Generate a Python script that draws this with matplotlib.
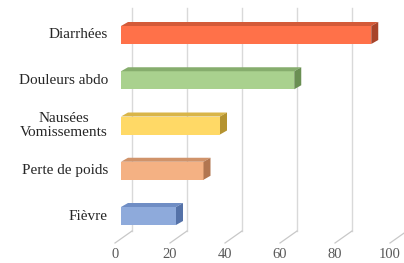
import matplotlib
matplotlib.use("Agg")
import matplotlib.pyplot as plt
from matplotlib.patches import Polygon
import numpy as np

categories = ["Fièvre", "Perte de poids", "Nausées\nVomissements", "Douleurs abdo", "Diarrhées"]
values = [20, 30, 36, 63, 91]
ticks = [0, 20, 40, 60, 80, 100]

front_colors = ["#8eaadb", "#f4b183", "#ffd966", "#a9d18e", "#ff7149"]
top_colors = ["#6f8dc4", "#d0936a", "#d9b548", "#86ad6d", "#d45a38"]
side_colors = ["#5572a8", "#b27650", "#b59330", "#6a8f53", "#a8442a"]

W, H = 404, 263
fig = plt.figure(figsize=(W / 100, H / 100), dpi=100)
ax = fig.add_axes([0, 0, 1, 1])
ax.set_axis_off()

px_per_unit = 2.75
x0_px = 121
y0_px = 216
y_step = 45.25
ax.set_xlim((0 - x0_px) / px_per_unit, (W - x0_px) / px_per_unit)
ax.set_ylim((y0_px - H) / y_step, y0_px / y_step)

serif = ["Liberation Serif", "DejaVu Serif"]

# back-plane gridlines and floor lines
back_off = 11 / px_per_unit
front_off = -6 / px_per_unit
y_back_bottom = (y0_px - 231) / y_step
y_front_floor = (y0_px - 243) / y_step
y_top = (y0_px - 8) / y_step
for t in ticks:
    ax.plot([t + back_off, t + back_off], [y_back_bottom, y_top], color="#d9d9d9", lw=1.0, zorder=1)
    ax.plot([t + front_off, t + back_off], [y_front_floor, y_back_bottom], color="#c8c8c8", lw=0.9, zorder=1)
    ax.text(t + front_off, (y0_px - 255) / y_step, str(t), ha="center", va="center",
            fontsize=10.5, family=serif, color="#595959")

# bars
h = 18 / y_step
dx = 7 / px_per_unit
dy = 4 / y_step
ypos = np.arange(len(categories))
ax.barh(ypos, values, height=h, left=0, color=front_colors, zorder=3, linewidth=0)
for i, v in enumerate(values):
    top = ypos[i] + h / 2
    bot = ypos[i] - h / 2
    ax.add_patch(Polygon([(0, top), (v, top), (v + dx, top + dy), (dx, top + dy)],
                         closed=True, facecolor=top_colors[i], edgecolor="none", zorder=3))
    ax.add_patch(Polygon([(v, bot), (v, top), (v + dx, top + dy), (v + dx, bot + dy)],
                         closed=True, facecolor=side_colors[i], edgecolor="none", zorder=3))
    ax.text((108 - x0_px) / px_per_unit, ypos[i], categories[i], ha="right",
            va="center", fontsize=11, family=serif, color="#262626", multialignment="center",
            linespacing=1.1)

fig.savefig("out.png", dpi=100)
